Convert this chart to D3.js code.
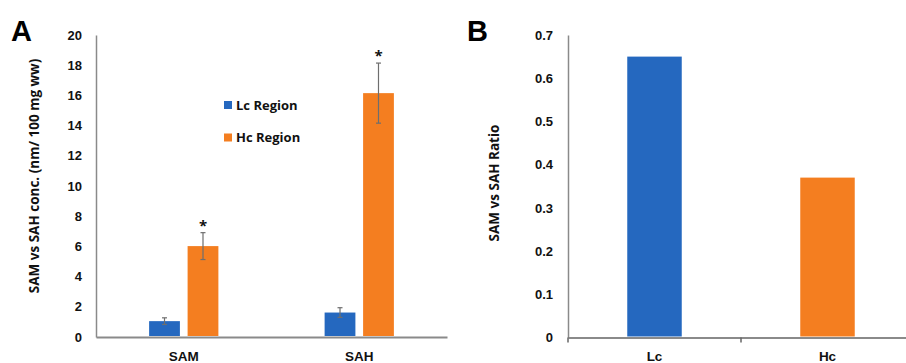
<!DOCTYPE html>
<html><head><meta charset="utf-8">
<script src="https://cdn.jsdelivr.net/npm/d3@7"></script>
<style>
body{margin:0;background:#fff;}
svg{display:block;font-family:"Open Sans",sans-serif;}
</style></head>
<body><svg id="c" width="906" height="363"></svg>
<script>
// Panel A data
const groupsA = ["SAM", "SAH"];
const seriesA = ["Lc Region", "Hc Region"];
const lcValues = [1.05, 1.62];
const lcErrors = [0.22, 0.32];
const hcValues = [6.02, 16.15];
const hcErrors = [0.89, 1.99];
const starA = [false, true]; // per series: asterisk on Hc
const ticksA = [0, 2, 4, 6, 8, 10, 12, 14, 16, 18, 20];
// Panel B data
const catsB = ["Lc", "Hc"];
const ratioB = [0.65, 0.37];
const ticksB = [0, 0.1, 0.2, 0.3, 0.4, 0.5, 0.6, 0.7];

const colors = ["#2568BF", "#F47E20"];
const axisColor = "#8a8a8a";
const svg = d3.select("#c");

// ---------- Panel A ----------
const A = {left: 96, right: 447, top: 35, bottom: 337};
const yA = d3.scaleLinear().domain([0, 20]).range([A.bottom, A.top]);
const x0A = d3.scaleBand().domain(groupsA).range([A.left, A.right]);
const x1A = d3.scaleBand().domain(seriesA).range([0, x0A.bandwidth()]).paddingInner(0.2).paddingOuter(1.38);

const gA = svg.append("g");
const yAxA = gA.append("g").attr("transform", `translate(${A.left},0)`)
  .call(d3.axisLeft(yA).tickValues(ticksA).tickSize(0).tickPadding(14).tickFormat(d3.format("d")));
yAxA.select(".domain").attr("stroke", axisColor).attr("stroke-width", 1.5);
yAxA.selectAll("text").attr("font-size", 13).attr("font-weight", 700).attr("fill", "#111");
const xAxA = gA.append("g").attr("transform", `translate(0,${A.bottom})`)
  .call(d3.axisBottom(x0A).tickSize(0).tickPadding(14));
xAxA.select(".domain").attr("stroke", axisColor).attr("stroke-width", 2);
xAxA.selectAll("text").attr("font-size", 13.5).attr("font-weight", 700).attr("fill", "#111");

const dataA = groupsA.map((g, i) => [
  {g, s: seriesA[0], v: lcValues[i], e: lcErrors[i], c: colors[0], star: starA[0]},
  {g, s: seriesA[1], v: hcValues[i], e: hcErrors[i], c: colors[1], star: starA[1]}
]).flat();

gA.append("g").selectAll("rect").data(dataA).join("rect")
  .attr("x", d => x0A(d.g) + x1A(d.s))
  .attr("width", x1A.bandwidth())
  .attr("y", d => yA(d.v))
  .attr("height", d => yA(0) - yA(d.v) - 1)
  .attr("fill", d => d.c);

const errA = gA.append("g").attr("stroke", "#6e6e6e").attr("stroke-width", 1.2);
dataA.forEach(d => {
  const cx = x0A(d.g) + x1A(d.s) + x1A.bandwidth() / 2;
  const y1 = yA(d.v + d.e), y2 = yA(d.v - d.e);
  errA.append("line").attr("x1", cx).attr("x2", cx).attr("y1", y1).attr("y2", y2);
  errA.append("line").attr("x1", cx - 2.5).attr("x2", cx + 2.5).attr("y1", y1).attr("y2", y1);
  errA.append("line").attr("x1", cx - 2.5).attr("x2", cx + 2.5).attr("y1", y2).attr("y2", y2);
  if (d.star) {
    gA.append("text").attr("x", cx).attr("y", y1 - 2).attr("text-anchor", "middle")
      .attr("font-size", 15).attr("font-weight", 700).attr("fill", "#111").text("*");
  }
});

const leg = gA.append("g").attr("transform", "translate(224,105)");
seriesA.forEach((s, i) => {
  const row = leg.append("g").attr("transform", `translate(0,${i * 32.5})`);
  row.append("rect").attr("x", 0).attr("y", -4).attr("width", 8).attr("height", 8).attr("fill", colors[i]);
  row.append("text").attr("x", 12).attr("y", 0).attr("dy", "0.35em")
    .attr("font-size", 13).attr("font-weight", 700).attr("fill", "#111").text(s);
});

gA.append("text").attr("transform", "translate(39,176) rotate(-90)").attr("text-anchor", "middle")
  .attr("font-size", 13.5).attr("font-weight", 700).attr("fill", "#111")
  .text("SAM vs SAH conc. (nm/ 100 mg ww)");
gA.append("text").attr("x", 11).attr("y", 41).attr("font-family", "Liberation Sans, Arial, sans-serif")
  .attr("font-size", 29).attr("font-weight", 700).attr("fill", "#000").text("A");

// ---------- Panel B ----------
const B = {left: 568, right: 914, top: 35, bottom: 337.5};
const yB = d3.scaleLinear().domain([0, 0.7]).range([B.bottom, B.top]);
const xB = d3.scaleBand().domain(catsB).range([B.left, B.right]).paddingInner(0).paddingOuter(0);
const barW = xB.bandwidth() * 0.315;

const gB = svg.append("g");
const yAxB = gB.append("g").attr("transform", `translate(${B.left},0)`)
  .call(d3.axisLeft(yB).tickValues(ticksB).tickSize(0).tickPadding(15).tickFormat(d => d === 0 ? "0" : d3.format(".1f")(d)));
yAxB.select(".domain").attr("stroke", axisColor).attr("stroke-width", 1.5);
yAxB.selectAll("text").attr("font-size", 13).attr("font-weight", 700).attr("fill", "#111");

const xAxB = gB.append("g").attr("transform", `translate(0,${B.bottom})`)
  .call(d3.axisBottom(xB).tickSize(0).tickPadding(14));
xAxB.select(".domain").attr("stroke", axisColor).attr("stroke-width", 2);
xAxB.selectAll("text").attr("font-size", 13.5).attr("font-weight", 700).attr("fill", "#111");
const bounds = catsB.map(c => xB(c)).concat([xB.range()[1]]);
gB.append("g").selectAll("line").data(bounds).join("line")
  .attr("x1", d => d).attr("x2", d => d).attr("y1", B.bottom).attr("y2", B.bottom + 5)
  .attr("stroke", "#666").attr("stroke-width", 1.5);

gB.append("g").selectAll("rect").data(catsB).join("rect")
  .attr("x", c => xB(c) + (xB.bandwidth() - barW) / 2)
  .attr("width", barW)
  .attr("y", (c, i) => yB(ratioB[i]))
  .attr("height", (c, i) => yB(0) - yB(ratioB[i]) - 1)
  .attr("fill", (c, i) => colors[i]);

gB.append("text").attr("transform", "translate(499,183) rotate(-90)").attr("text-anchor", "middle")
  .attr("font-size", 13.5).attr("font-weight", 700).attr("fill", "#111").text("SAM vs SAH Ratio");
gB.append("text").attr("x", 467).attr("y", 41).attr("font-family", "Liberation Sans, Arial, sans-serif")
  .attr("font-size", 29).attr("font-weight", 700).attr("fill", "#000").text("B");
</script></body></html>
